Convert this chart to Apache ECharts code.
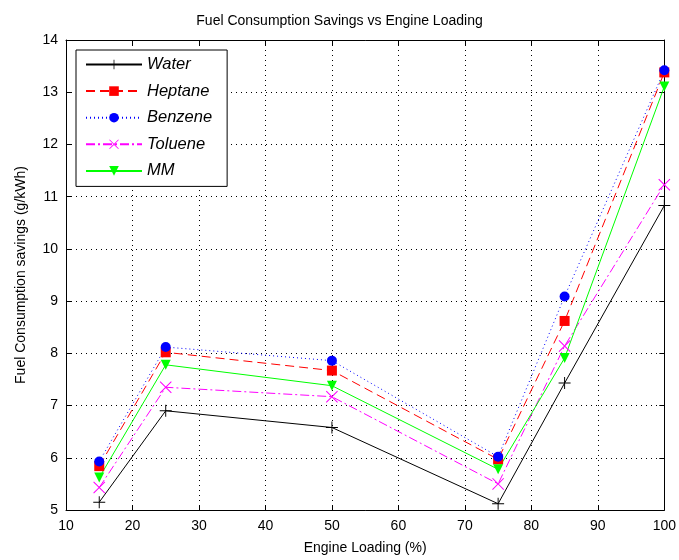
<!DOCTYPE html>
<html>
<head>
<meta charset="utf-8">
<script src="https://cdn.jsdelivr.net/npm/echarts@6/dist/echarts.min.js"></script>
<style>html,body{margin:0;padding:0;background:#fff;}#c{width:679px;height:560px;}</style>
</head>
<body>
<div id="c"></div>
<script>
const loads = [15, 25, 50, 75, 85, 100];
const water = [5.15, 6.9, 6.58, 5.12, 7.43, 10.83];
const heptane = [5.84, 8.02, 7.67, 5.97, 8.62, 13.38];
const benzene = [5.93, 8.12, 7.86, 6.02, 9.09, 13.42];
const toluene = [5.43, 7.35, 7.17, 5.5, 8.14, 11.23];
const mm = [5.62, 7.78, 7.38, 5.78, 7.91, 13.11];
const xTicks = [10, 20, 30, 40, 50, 60, 70, 80, 90, 100];
const yTicks = [5, 6, 7, 8, 9, 10, 11, 12, 13, 14];

const plus = 'path://M4.6,0H5.4V4.6H10V5.4H5.4V10H4.6V5.4H0V4.6H4.6Z';
const cross = 'path://M0.6,0L5,4.4L9.4,0L10,0.6L5.6,5L10,9.4L9.4,10L5,5.6L0.6,10L0,9.4L4.4,5L0,0.6Z';
const pairs = ys => loads.map((x, i) => [x, ys[i]]);
const FONT = 'Liberation Sans';

function ser(name, ys, color, type, symbol, size, rot) {
  return {
    name, type: 'line', data: pairs(ys), symbol, symbolSize: size, symbolRotate: rot || 0,
    showAllSymbol: true,
    lineStyle: { color, width: 1, type },
    itemStyle: { color, borderWidth: 0 },
    emphasis: { disabled: true },
    z: 5
  };
}

const chart = echarts.init(document.getElementById('c'), null, { renderer: 'canvas' });
const axisCommon = {
  axisLine: { show: true, onZero: false, lineStyle: { color: '#000', width: 1 } },
  axisTick: { show: true, inside: true, length: 5, lineStyle: { color: '#000' } }
};
chart.setOption({
  animation: false,
  backgroundColor: '#fff',
  title: {
    text: 'Fuel Consumption Savings vs Engine Loading',
    left: 'center', top: 9,
    textStyle: { fontFamily: FONT, fontSize: 14, fontWeight: 'normal', color: '#000' }
  },
  grid: { left: 66, right: 14, top: 40, bottom: 50, show: false },
  legend: {
    orient: 'vertical', left: 76, top: 50,
    backgroundColor: '#fff', borderColor: '#000', borderWidth: 1,
    padding: [6, 15, 7, 9],
    itemWidth: 56, itemHeight: 12, itemGap: 9.6,
    textStyle: { fontFamily: FONT, fontSize: 16.5, fontStyle: 'italic', color: '#000', padding: [0, 0, 0, 0] },
    data: ['Water', 'Heptane', 'Benzene', 'Toluene', 'MM']
  },
  xAxis: [{
    type: 'value', min: 10, max: 100, interval: 10,
    name: 'Engine Loading (%)', nameLocation: 'middle', nameGap: 31,
    nameTextStyle: { fontFamily: FONT, fontSize: 14, color: '#000' },
    axisLabel: { fontFamily: FONT, fontSize: 14, color: '#000', margin: 9 },
    splitLine: { show: true, lineStyle: { color: '#000', type: [1, 4], width: 1 } },
    ...axisCommon
  }, {
    type: 'value', min: 10, max: 100, interval: 10, position: 'top',
    axisLabel: { show: false }, splitLine: { show: false },
    ...axisCommon
  }],
  yAxis: [{
    type: 'value', min: 5, max: 14, interval: 1,
    name: 'Fuel Consumption savings (g/kWh)', nameLocation: 'middle', nameGap: 38,
    nameTextStyle: { fontFamily: FONT, fontSize: 14, color: '#000' },
    axisLabel: { fontFamily: FONT, fontSize: 14, color: '#000', margin: 8 },
    splitLine: { show: true, lineStyle: { color: '#000', type: [1, 4], width: 1 } },
    ...axisCommon
  }, {
    type: 'value', min: 5, max: 14, interval: 1, position: 'right',
    axisLabel: { show: false }, splitLine: { show: false },
    ...axisCommon
  }],
  series: [
    ser('Water', water, '#000000', 'solid', plus, 12),
    ser('Heptane', heptane, '#ff0000', [9, 5], 'rect', 10),
    ser('Benzene', benzene, '#0000ff', [1, 3], 'circle', 10),
    ser('Toluene', toluene, '#ff00ff', [9, 3, 2, 3], cross, 12),
    ser('MM', mm, '#00ff00', 'solid', 'triangle', 10, 180)
  ]
});
</script>
</body>
</html>
